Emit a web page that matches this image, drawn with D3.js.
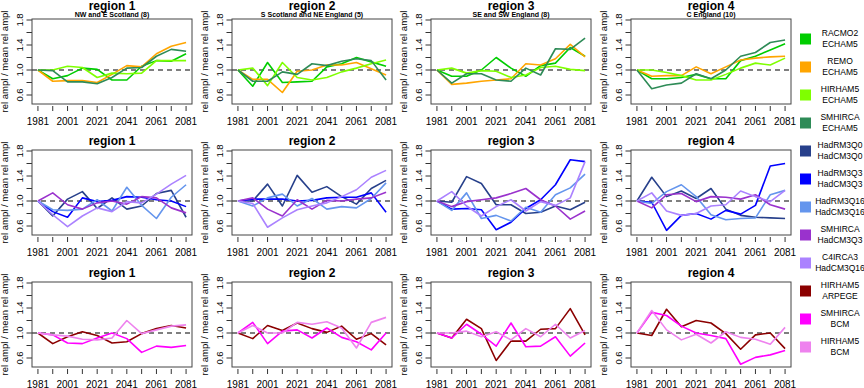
<!DOCTYPE html>
<html>
<head>
<meta charset="utf-8">
<script src="https://cdn.jsdelivr.net/npm/d3@7"></script>
<style>
  html, body { margin: 0; padding: 0; background: #fff; }
  svg { display: block; font-family: "Liberation Sans", Arial, Helvetica, sans-serif; }
</style>
</head>
<body>
<div id="chart"></div>
<script>
// decades on the x axis, labels every 20 years
const years = [1981, 1991, 2001, 2011, 2021, 2031, 2041, 2051, 2061, 2071, 2081];
const yearLabels = [1981, 2001, 2021, 2041, 2061, 2081];
const yTicks = [0.6, 0.8, 1.0, 1.2, 1.4, 1.6, 1.8];
const yLabels = [0.6, 1.0, 1.4, 1.8];

const regionTitles = ['region 1', 'region 2', 'region 3', 'region 4'];
const regionSubtitles = ['NW and E Scotland (8)', 'S Scotland and NE England (5)', 'SE and SW England (8)', 'C England (10)'];

// one array per model run, one row per region
const racmo2Echam5 = [
  [1.0, 0.86, 0.91, 1.03, 1.01, 0.84, 0.84, 1.06, 1.15, 1.14, 1.26],
  [1.0, 0.74, 1.12, 0.80, 0.81, 0.82, 1.05, 1.10, 1.20, 1.13, 1.06],
  [1.0, 0.90, 0.90, 1.00, 1.20, 1.03, 0.90, 1.07, 1.11, 1.36, 1.22],
  [1.0, 0.86, 0.86, 0.88, 0.93, 0.86, 0.86, 1.15, 1.22, 1.32, 1.42]
];
const remoEcham5 = [
  [1.0, 0.82, 0.83, 0.83, 0.80, 0.93, 1.07, 1.05, 1.26, 1.38, 1.44],
  [1.0, 0.85, 0.85, 0.64, 0.98, 1.00, 1.08, 1.08, 1.12, 1.02, 0.92],
  [1.0, 0.77, 0.79, 0.82, 0.84, 0.86, 1.10, 1.08, 1.18, 1.41, 1.21],
  [1.0, 0.90, 0.91, 0.91, 1.05, 0.94, 1.05, 1.16, 1.19, 1.21, 1.22]
];
const hirham5Echam5 = [
  [1.0, 1.00, 1.06, 1.04, 0.88, 0.95, 0.94, 0.95, 1.15, 1.15, 1.15],
  [1.0, 1.03, 0.75, 1.12, 0.88, 0.84, 0.88, 0.97, 1.03, 1.10, 1.16],
  [1.0, 1.03, 0.95, 0.99, 0.98, 0.88, 0.92, 1.04, 1.06, 1.01, 0.99],
  [1.0, 1.00, 0.96, 0.91, 0.84, 0.84, 0.93, 1.03, 1.11, 1.08, 1.19]
];
const smhircaEcham5 = [
  [1.0, 0.99, 0.81, 0.81, 0.78, 0.88, 1.03, 1.04, 1.22, 1.33, 1.30],
  [1.0, 0.82, 0.82, 0.97, 0.93, 1.10, 1.07, 1.14, 1.18, 1.15, 0.84],
  [1.0, 0.79, 0.94, 0.94, 0.84, 0.82, 1.03, 0.92, 1.34, 1.33, 1.51],
  [1.0, 0.70, 0.76, 0.79, 0.94, 0.86, 1.00, 1.22, 1.28, 1.44, 1.48]
];
const hadrm3q0 = [
  [1.0, 0.76, 1.03, 1.15, 0.88, 1.05, 0.87, 0.92, 1.12, 1.17, 0.74],
  [1.0, 1.00, 1.27, 0.92, 1.41, 1.14, 1.23, 1.07, 0.95, 1.20, 1.33],
  [1.0, 0.98, 1.39, 1.28, 0.94, 0.94, 0.80, 0.82, 0.92, 0.86, 0.98],
  [1.0, 1.38, 1.07, 1.16, 1.04, 1.20, 0.87, 0.77, 0.74, 0.73, 0.72]
];
const hadrm3q3 = [
  [1.0, 0.83, 0.74, 1.05, 0.99, 1.01, 1.07, 1.06, 1.02, 1.00, 0.91],
  [1.0, 1.03, 1.03, 1.03, 1.00, 1.01, 1.05, 1.06, 1.06, 1.13, 0.82],
  [1.0, 0.87, 0.88, 0.86, 0.54, 0.66, 0.88, 1.02, 1.26, 1.66, 1.63],
  [1.0, 0.98, 0.53, 0.77, 0.80, 0.71, 0.85, 0.79, 0.93, 1.56, 1.60]
];
const hadrm3q16 = [
  [1.0, 0.86, 0.85, 0.87, 1.02, 0.84, 1.22, 0.93, 0.72, 1.06, 1.26],
  [1.0, 0.92, 1.05, 1.11, 0.92, 1.04, 0.87, 0.91, 0.89, 1.04, 1.29],
  [1.0, 0.85, 1.13, 0.72, 0.77, 0.68, 0.90, 0.82, 1.10, 1.21, 1.43],
  [1.0, 0.96, 1.15, 1.26, 1.07, 0.78, 0.70, 0.72, 0.73, 1.10, 1.17]
];
const smhircaHadcm3q3 = [
  [1.0, 1.13, 0.94, 0.87, 0.97, 1.00, 0.95, 1.07, 1.05, 0.89, 0.81],
  [1.0, 1.05, 0.87, 0.76, 1.02, 0.87, 1.01, 1.00, 1.03, 1.05, 1.14],
  [1.0, 0.91, 0.99, 1.02, 1.05, 1.12, 1.20, 1.02, 0.92, 0.71, 0.84],
  [1.0, 0.89, 1.10, 1.12, 0.99, 1.07, 1.06, 1.03, 1.10, 0.94, 0.87]
];
const c4irca3Hadcm3q16 = [
  [1.0, 0.78, 0.59, 0.76, 0.89, 0.83, 0.99, 0.97, 1.11, 1.27, 1.41],
  [1.0, 0.96, 0.58, 0.73, 0.86, 0.92, 0.97, 1.07, 1.18, 1.38, 1.49],
  [1.0, 1.15, 0.92, 0.76, 0.91, 1.02, 0.84, 0.99, 0.93, 1.05, 1.63],
  [1.0, 1.13, 0.84, 0.77, 0.80, 0.92, 0.94, 1.16, 1.07, 0.99, 1.17]
];
const hirham5Arpege = [
  [1.0, 0.83, 0.94, 1.02, 0.96, 0.84, 0.86, 0.99, 1.07, 1.12, 1.08],
  [1.0, 0.91, 1.12, 1.04, 1.16, 1.07, 1.01, 1.11, 0.90, 0.99, 0.81],
  [1.0, 0.92, 1.22, 1.07, 0.56, 0.87, 0.87, 1.06, 1.07, 1.39, 0.97],
  [1.0, 0.96, 1.38, 1.10, 1.20, 1.16, 0.99, 0.74, 0.97, 1.00, 0.75]
];
const smhircaBcm = [
  [1.0, 0.97, 0.84, 0.83, 0.92, 1.00, 0.91, 0.69, 0.79, 0.77, 0.80],
  [1.0, 1.17, 0.83, 1.03, 1.05, 0.92, 1.08, 0.93, 0.86, 0.73, 1.00],
  [1.0, 0.92, 1.14, 0.98, 0.79, 1.16, 0.78, 0.79, 0.94, 0.63, 0.84],
  [1.0, 1.33, 1.28, 1.11, 1.00, 0.96, 0.91, 0.50, 0.61, 0.65, 0.72]
];
const hirham5Bcm = [
  [1.0, 0.97, 0.95, 0.90, 0.89, 0.92, 1.20, 0.99, 1.05, 1.11, 1.13],
  [1.0, 1.12, 1.00, 1.00, 1.17, 1.14, 1.18, 1.08, 0.76, 1.17, 1.25],
  [1.0, 1.00, 1.03, 0.94, 1.02, 0.89, 1.07, 0.94, 1.14, 0.92, 1.04],
  [1.0, 1.36, 1.05, 0.89, 0.98, 0.84, 1.02, 0.93, 0.90, 0.82, 1.09]
];

// the three rows of panels (driving GCM groups)
const rows = [
  [
    { rcm: 'RACMO2', gcm: 'ECHAM5', color: '#00CD00', values: racmo2Echam5 },
    { rcm: 'REMO', gcm: 'ECHAM5', color: '#FFA500', values: remoEcham5 },
    { rcm: 'HIRHAM5', gcm: 'ECHAM5', color: '#7FFF00', values: hirham5Echam5 },
    { rcm: 'SMHIRCA', gcm: 'ECHAM5', color: '#2E8B57', values: smhircaEcham5 }
  ],
  [
    { rcm: 'HadRM3Q0', gcm: 'HadCM3Q0', color: '#27408B', values: hadrm3q0 },
    { rcm: 'HadRM3Q3', gcm: 'HadCM3Q3', color: '#0000FF', values: hadrm3q3 },
    { rcm: 'HadRM3Q16', gcm: 'HadCM3Q16', color: '#6495ED', values: hadrm3q16 },
    { rcm: 'SMHIRCA', gcm: 'HadCM3Q3', color: '#9A32CD', values: smhircaHadcm3q3 },
    { rcm: 'C4IRCA3', gcm: 'HadCM3Q16', color: '#AB82FF', values: c4irca3Hadcm3q16 }
  ],
  [
    { rcm: 'HIRHAM5', gcm: 'ARPEGE', color: '#8B0000', values: hirham5Arpege },
    { rcm: 'SMHIRCA', gcm: 'BCM', color: '#FF00FF', values: smhircaBcm },
    { rcm: 'HIRHAM5', gcm: 'BCM', color: '#EE82EE', values: hirham5Bcm }
  ]
];

const W = 864, H = 388;
const panelW = 160, panelH = 85;
const panelLeft = [32, 232, 431, 631];
const panelTop = [19, 150, 282];

const svg = d3.select('#chart').append('svg')
  .attr('width', W)
  .attr('height', H);

const y = d3.scaleLinear().domain([0.456, 1.816]).range([panelH, 0]);

rows.forEach((models, r) => {
  regionTitles.forEach((title, c) => {
    const g = svg.append('g')
      .attr('transform', `translate(${panelLeft[c]},${panelTop[r]})`);

    const x = d3.scaleLinear().domain([1977, 2085]).range([0, panelW]);

    // titles
    if (r === 0) {
      g.append('text')
        .attr('x', panelW / 2).attr('y', -9.2)
        .attr('text-anchor', 'middle')
        .attr('font-size', 12).attr('font-weight', 'bold')
        .text(title);
      g.append('text')
        .attr('x', panelW / 2).attr('y', -1.6)
        .attr('text-anchor', 'middle')
        .attr('font-size', 7).attr('font-weight', 'bold')
        .text(regionSubtitles[c]);
    } else {
      g.append('text')
        .attr('x', panelW / 2).attr('y', -5)
        .attr('text-anchor', 'middle')
        .attr('font-size', 12).attr('font-weight', 'bold')
        .text(title);
    }

    // y axis ticks and labels
    g.selectAll('.ytick')
      .data(yTicks)
      .enter().append('line')
      .attr('x1', -5.5).attr('x2', 0)
      .attr('y1', d => y(d)).attr('y2', d => y(d))
      .attr('stroke', '#333').attr('stroke-width', 1);

    g.selectAll('.ylab')
      .data(yLabels)
      .enter().append('text')
      .attr('transform', d => `translate(-12,${y(d)}) rotate(-90)`)
      .attr('dy', '0.35em')
      .attr('text-anchor', 'middle')
      .attr('font-size', 9.5)
      .text(d => d.toFixed(1));

    g.append('text')
      .attr('transform', `translate(-27,${panelH / 2}) rotate(-90)`)
      .attr('dy', '0.35em')
      .attr('text-anchor', 'middle')
      .attr('font-size', 9.5)
      .text('rel ampl / mean rel ampl');

    // x axis ticks and labels
    g.selectAll('.xtick')
      .data(years)
      .enter().append('line')
      .attr('x1', d => x(d)).attr('x2', d => x(d))
      .attr('y1', panelH + 2).attr('y2', panelH + 7)
      .attr('stroke', '#333').attr('stroke-width', 1);

    g.selectAll('.xlab')
      .data(yearLabels)
      .enter().append('text')
      .attr('x', d => x(d))
      .attr('y', panelH + 20.5)
      .attr('text-anchor', 'middle')
      .attr('font-size', 10)
      .text(d => d);

    // reference line at 1
    g.append('line')
      .attr('x1', 0).attr('x2', panelW)
      .attr('y1', y(1)).attr('y2', y(1))
      .attr('stroke', '#000').attr('stroke-width', 1.2)
      .attr('stroke-dasharray', '5,4');

    const line = d3.line()
      .x((d, i) => x(years[i]))
      .y(d => y(d));

    models.forEach(m => {
      g.append('path')
        .datum(m.values[c])
        .attr('d', line)
        .attr('fill', 'none')
        .attr('stroke', m.color)
        .attr('stroke-width', 1.6)
        .attr('stroke-linejoin', 'round');
    });

    g.append('rect')
      .attr('x', 0).attr('y', 0)
      .attr('width', panelW).attr('height', panelH)
      .attr('fill', 'none')
      .attr('stroke', '#444').attr('stroke-width', 1);
  });
});

// legend down the right-hand side
const legendItems = rows.flat();
const legend = svg.append('g').attr('class', 'legend');

legendItems.forEach((m, i) => {
  const cy = 39 + 28 * i;
  legend.append('rect')
    .attr('x', 800).attr('y', cy - 5.5)
    .attr('width', 11).attr('height', 11)
    .attr('fill', m.color);
  legend.append('text')
    .attr('x', 840).attr('y', cy - 5.5)
    .attr('dy', '0.35em')
    .attr('text-anchor', 'middle')
    .attr('font-size', 8.5)
    .text(m.rcm);
  legend.append('text')
    .attr('x', 840).attr('y', cy + 5.5)
    .attr('dy', '0.35em')
    .attr('text-anchor', 'middle')
    .attr('font-size', 8.5)
    .text(m.gcm);
});
</script>
</body>
</html>
